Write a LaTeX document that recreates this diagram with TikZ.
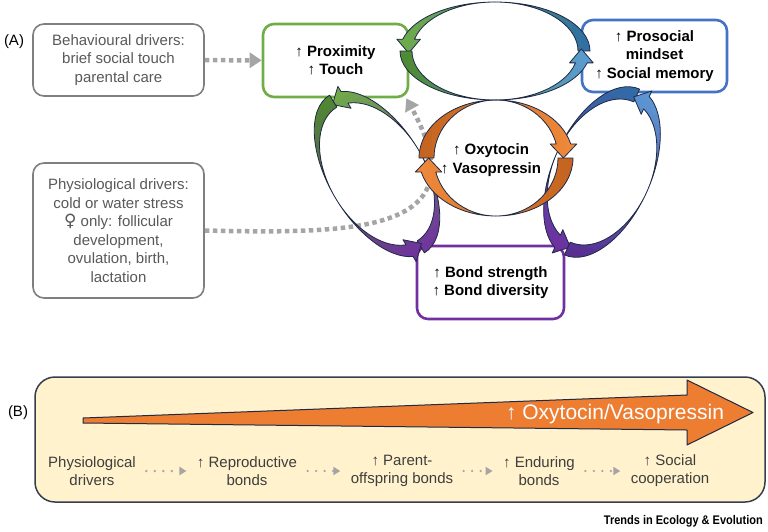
\documentclass[tikz,border=0pt]{standalone}
\usepackage{fontspec}
\setmainfont{Liberation Sans}
\newfontfamily\symfont{DejaVu Sans}
\usepackage{tikz}
\usetikzlibrary{arrows.meta,positioning}

\definecolor{gA}{HTML}{70AD47}
\definecolor{gD}{HTML}{4E8A2C}
\definecolor{bL}{HTML}{5B9BD5}
\definecolor{bD}{HTML}{2F6DA8}
\definecolor{bBox}{HTML}{4472C4}
\definecolor{oL}{HTML}{F08A3C}
\definecolor{oD}{HTML}{C2621F}
\definecolor{oB}{HTML}{ED7D31}
\definecolor{pP}{HTML}{7030A0}
\definecolor{pD}{HTML}{58288C}
\definecolor{navy}{HTML}{1F2A44}
\definecolor{txtgray}{HTML}{595959}
\definecolor{boxgray}{HTML}{7F7F7F}
\definecolor{dotgray}{HTML}{A5A5A5}
\definecolor{paleyellow}{HTML}{FFF2CC}
\definecolor{slate}{HTML}{333F50}

% head start angle, head overhang, head length
\def\hd{14}\def\hh{6}\def\hl{14}

% half-loop arrow: a, b, end width, tail colour, head colour
\newcommand{\crescent}[5]{%
	\pgfmathsetmacro{\cra}{#1}%
	\pgfmathsetmacro{\crb}{#2}%
	\pgfmathsetmacro{\cri}{#1-#3}%
	\pgfmathsetmacro{\cox}{#1*cos(\hd)}%
	\pgfmathsetmacro{\cix}{(#1-#3)*cos(\hd)}%
	\pgfmathsetmacro{\chy}{#2*sin(\hd)}%
	\pgfmathsetmacro{\ctx}{(\cox+\cix)/2}%
	\pgfmathsetmacro{\csw}{(2*#1+16)/24}%
	\def\cpath{(-\cra,0) arc[start angle=180,end angle=\hd,x radius=\cra,y radius=\crb]
		-- (\cox+\hh,\chy) -- (\ctx,\chy-\hl) -- (\cix-\hh,\chy) -- (\cix,\chy)
		arc[start angle=\hd,end angle=180,x radius=\cri,y radius=\crb] -- cycle}%
	\begin{scope}
		\clip \cpath;
		\foreach \k in {0,...,23}{
			\pgfmathsetmacro{\sx}{-\cra-8+\k*\csw}
			\pgfmathtruncatemacro{\pc}{100-\k*100/23}
			\fill[#4!\pc!#5] (\sx,-\crb-20) rectangle (\sx+\csw+0.6,\crb+2);
		}
	\end{scope}
	\draw[loopline] \cpath;
}

\begin{document}
\begin{tikzpicture}[x=1pt,y=1pt,
	drvbox/.style={draw=boxgray,line width=1.6pt,rounded corners=11pt,fill=white,align=center,
		text=txtgray,font=\fontsize{15}{18.5}\selectfont,minimum width=171pt},
	keybox/.style={line width=2.6pt,rounded corners=11pt,fill=white,align=center,
		font=\fontsize{15}{18.5}\selectfont\bfseries,minimum width=145pt,minimum height=73pt},
	dotarrow/.style={dotgray,line width=4.5pt,dash pattern=on 4.5pt off 3.5pt,
		-{Triangle[width=15pt,length=12pt]}},
	stepdots/.style={dotgray,line width=2.6pt,line cap=round,dash pattern=on 0pt off 8.5pt,
		-{Triangle[width=8pt,length=7pt]},shorten <=7pt,shorten >=7pt},
	loopline/.style={draw=navy,line width=0.8pt,line join=round},
	stage/.style={align=center,text=txtgray!70!black,font=\fontsize{15}{18}\selectfont}]
	\useasboundingbox (0,0) rectangle (768,-531);

	% panel A
	\node[font=\fontsize{15}{18}\selectfont] (labA) at (14,-42) {(A)};
	\node[drvbox,minimum height=72pt] (behav) at (118.5,-60) {Behavioural drivers:\\brief social touch\\parental care};
	\node[drvbox,minimum height=135pt] (phys) at (118.5,-230.5) {Physiological drivers:\\cold or water stress\\{\symfont\fontsize{17}{18.5}\selectfont ♀} only: follicular\\development,\\ovulation, birth,\\lactation};
	\node[keybox,draw=gA] (prox) at (335.5,-60.5) {↑ Proximity\\↑ Touch};
	\node[keybox,draw=bBox,minimum height=72pt] (proso) at (654.5,-56) {↑ Prosocial\\mindset\\↑ Social memory};
	\node[keybox,draw=pP,minimum width=147pt] (bond) at (490.5,-282.5) {↑ Bond strength\\↑ Bond diversity};

	\draw[dotarrow] (behav) -- (prox);
	\coordinate (pin) at ([xshift=-3pt]prox.south east);
	\draw[dotarrow] (phys.east) .. controls (360,-234) and (480,-232) .. (pin);

	% left loop
	\begin{scope}[shift={(377,-174)},rotate=-59]
		\begin{scope}[xscale=-1]\crescent{92}{48}{14}{pP}{gA}\end{scope}
		\begin{scope}[yscale=-1]\crescent{92}{48}{14}{gD}{pP}\end{scope}
	\end{scope}
	% right loop
	\begin{scope}[shift={(602,-172)},rotate=65.6]
		\begin{scope}[xscale=-1]\crescent{91}{49}{14}{bD}{pP}\end{scope}
		\begin{scope}[yscale=-1]\crescent{91}{49}{14}{pD}{bL}\end{scope}
	\end{scope}
	% top loop
	\begin{scope}[shift={(495,-51)}]
		\begin{scope}[xscale=-1]\crescent{95}{49}{12}{bD}{gA}\end{scope}
		\begin{scope}[yscale=-1]\crescent{95}{49}{12}{gD}{bL}\end{scope}
	\end{scope}
	% hormone loop
	\begin{scope}[shift={(496,-158)}]
		\crescent{77}{58}{15}{oD}{oL}
		\begin{scope}[rotate=180]\crescent{77}{58}{15}{oD}{oL}\end{scope}
	\end{scope}
	\node[font=\fontsize{15}{18.5}\selectfont\bfseries,align=center] (oxy) at (491,-160) {↑ Oxytocin\\↑ Vasopressin};

	% panel B
	\node[font=\fontsize{15}{18}\selectfont] (labB) at (18,-413) {(B)};
	\draw[draw=slate,line width=1.5pt,fill=paleyellow,rounded corners=20pt] (35,-377) rectangle (765,-502);
	\draw[fill=oB,draw=navy,line width=1pt,line join=round] (83,-418) -- (687,-395) -- (687,-380) -- (753,-412.5)
		-- (687,-445) -- (687,-430) -- (83,-423) -- cycle;
	\node[text=white,font=\fontsize{21}{24}\selectfont] (ov) at (615,-414) {↑ Oxytocin/Vasopressin};

	\node[stage] (pd) at (92,-471) {Physiological\\drivers};
	\node[stage] (rb) at (247,-471) {↑ Reproductive\\bonds};
	\node[stage] (po) at (402,-471) {↑ Parent-\\offspring bonds};
	\node[stage] (eb) at (539,-471) {↑ Enduring\\bonds};
	\node[stage] (sc) at (670,-471) {↑ Social\\cooperation};
	\draw[stepdots] (pd) -- (rb);
	\draw[stepdots] (rb) -- (po);
	\draw[stepdots] (po) -- (eb);
	\draw[stepdots] (eb) -- (sc);

	\node[anchor=east,inner sep=0pt] (jr) at (763,-521) {\scalebox{0.88}[1]{\fontsize{12.5}{14}\selectfont\bfseries Trends in Ecology \& Evolution}};
\end{tikzpicture}
\end{document}
